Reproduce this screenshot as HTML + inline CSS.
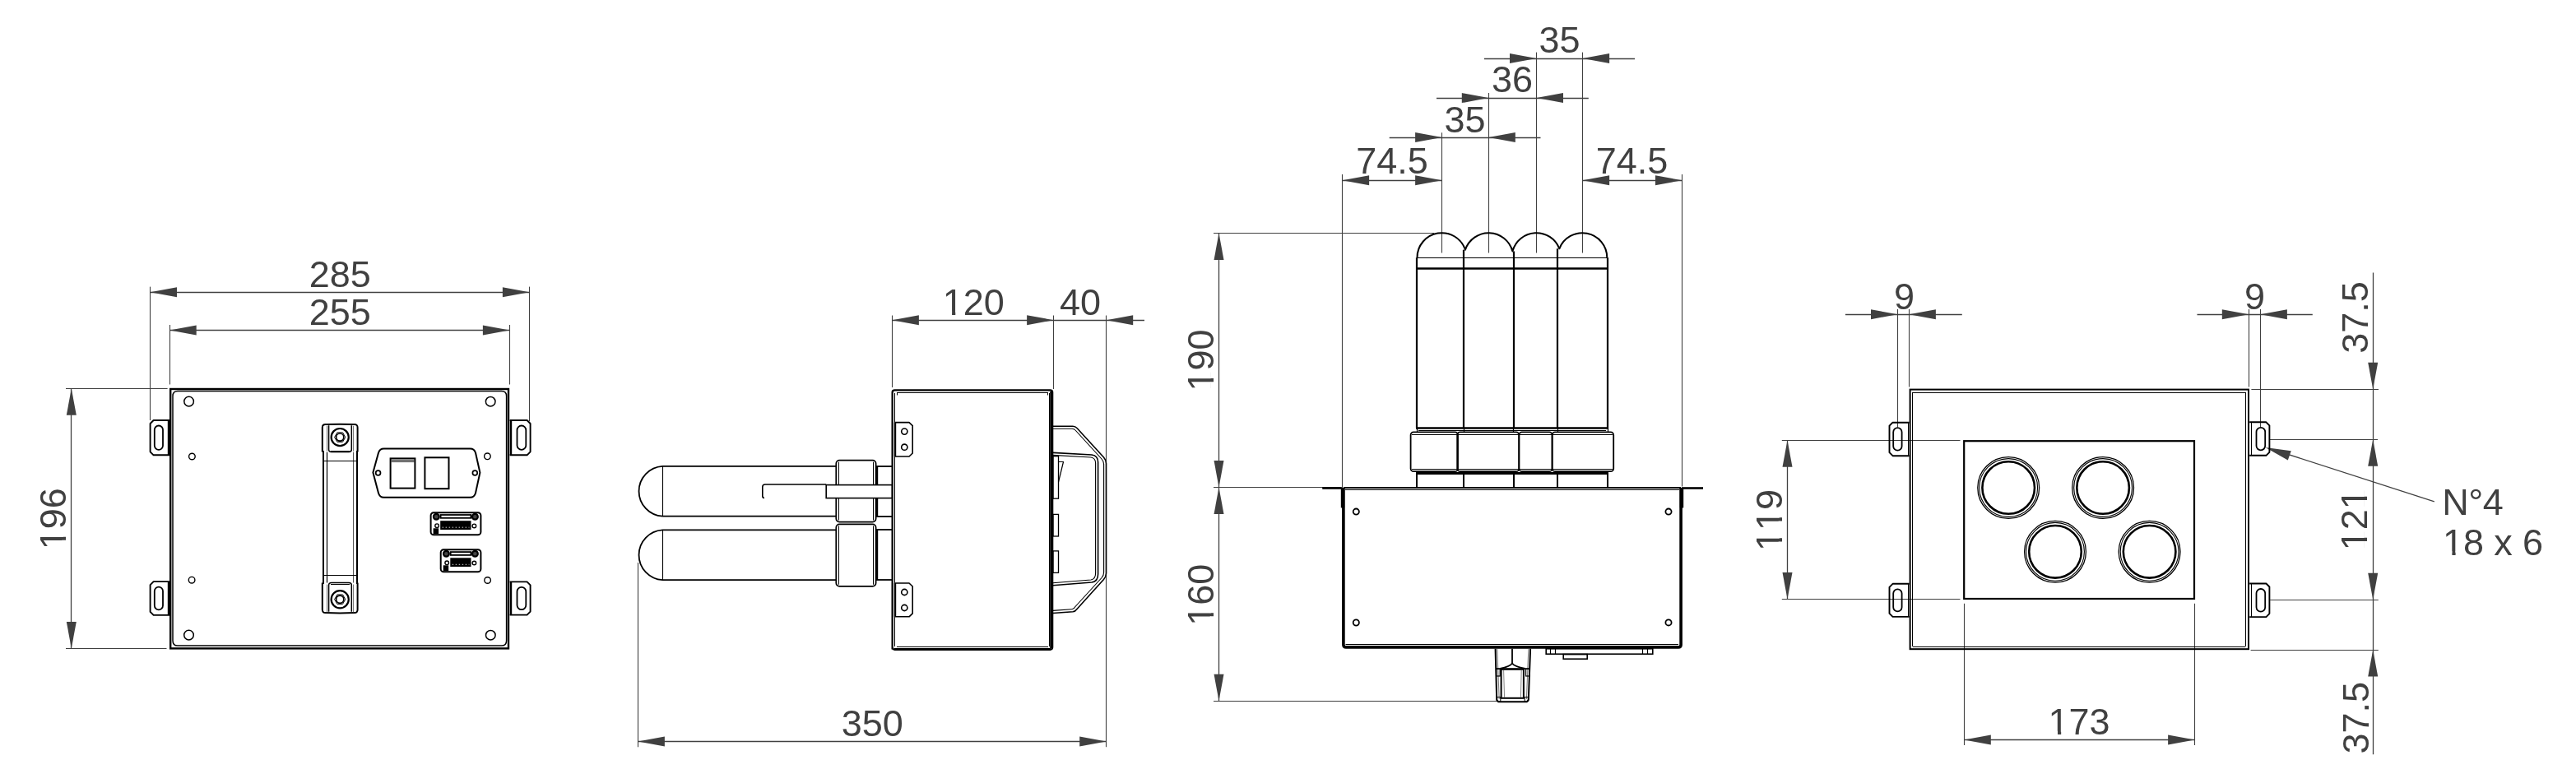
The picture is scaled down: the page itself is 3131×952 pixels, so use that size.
<!DOCTYPE html>
<html><head><meta charset="utf-8"><style>
html,body{margin:0;padding:0;background:#fff;}
svg{display:block;will-change:transform;}
text{font-family:"Liberation Sans",sans-serif;}
</style></head><body>
<svg width="3131" height="952" viewBox="0 0 3131 952">
<defs><clipPath id="k1" clipPathUnits="userSpaceOnUse"><path d="M-8,-60 H40 V-4.3 H15.6 V8 H11.4 V-4.3 H-8 Z"/></clipPath></defs>
<rect x="0" y="0" width="3131" height="952" fill="#fff"/>
<line x1="182.5" y1="348.6" x2="182.5" y2="511.0" stroke="#404040" stroke-width="1.10"/>
<line x1="643.5" y1="348.6" x2="643.5" y2="512.0" stroke="#404040" stroke-width="1.10"/>
<line x1="182.5" y1="355.5" x2="643.4" y2="355.5" stroke="#404040" stroke-width="1.30"/>
<polygon points="182.5,355.2 215.0,349.2 215.0,361.2" fill="#404040"/>
<polygon points="643.4,355.2 610.9,349.2 610.9,361.2" fill="#404040"/>
<g font-size="45.0" fill="#404040"><text x="375.67" y="348.60">2</text><text x="400.69" y="348.60">8</text><text x="425.71" y="348.60">5</text></g>
<line x1="206.5" y1="395.0" x2="206.5" y2="467.5" stroke="#404040" stroke-width="1.10"/>
<line x1="619.5" y1="395.0" x2="619.5" y2="467.5" stroke="#404040" stroke-width="1.10"/>
<line x1="206.2" y1="401.5" x2="619.4" y2="401.5" stroke="#404040" stroke-width="1.30"/>
<polygon points="206.2,401.5 238.7,395.5 238.7,407.5" fill="#404040"/>
<polygon points="619.4,401.5 586.9,395.5 586.9,407.5" fill="#404040"/>
<g font-size="45.0" fill="#404040"><text x="375.67" y="394.60">2</text><text x="400.69" y="394.60">5</text><text x="425.71" y="394.60">5</text></g>
<line x1="80.0" y1="472.5" x2="203.6" y2="472.5" stroke="#404040" stroke-width="1.10"/>
<line x1="80.0" y1="788.5" x2="202.5" y2="788.5" stroke="#404040" stroke-width="1.10"/>
<line x1="86.5" y1="472.2" x2="86.5" y2="788.4" stroke="#404040" stroke-width="1.30"/>
<polygon points="86.8,472.2 80.8,504.7 92.8,504.7" fill="#404040"/>
<polygon points="86.8,788.4 80.8,755.9 92.8,755.9" fill="#404040"/>
<g font-size="45.0" fill="#404040" transform="translate(63.80,630.70) rotate(-90)"><text x="0" y="0" transform="translate(-37.53,15.75)" clip-path="url(#k1)">1</text><text x="-12.51" y="15.75">9</text><text x="12.51" y="15.75">6</text></g>
<rect x="207.2" y="473.0" width="410.8" height="315.4" rx="0.0" fill="none" stroke="#000" stroke-width="2.40"/>
<path d="M210,481.5 Q210,475.5 216,475.5 L609.5,475.5 Q615.6,475.5 615.6,481.5 L615.6,779 Q615.6,785.1 609.5,785.1 L216,785.1 Q210,785.1 210,779 Z" fill="none" stroke="#000" stroke-width="1.50" stroke-linejoin="round" />
<circle cx="229.6" cy="488.1" r="5.8" fill="none" stroke="#000" stroke-width="1.50"/>
<circle cx="596.2" cy="488.2" r="5.8" fill="none" stroke="#000" stroke-width="1.50"/>
<circle cx="229.5" cy="772.1" r="5.8" fill="none" stroke="#000" stroke-width="1.50"/>
<circle cx="596.3" cy="772.2" r="5.8" fill="none" stroke="#000" stroke-width="1.50"/>
<circle cx="233.4" cy="555.0" r="3.8" fill="none" stroke="#000" stroke-width="1.40"/>
<circle cx="592.4" cy="554.8" r="3.8" fill="none" stroke="#000" stroke-width="1.40"/>
<circle cx="233.1" cy="705.2" r="3.8" fill="none" stroke="#000" stroke-width="1.40"/>
<circle cx="592.6" cy="705.5" r="3.8" fill="none" stroke="#000" stroke-width="1.40"/>
<path d="M206.0,511.0 L186.6,511.0 L182.6,515.0 L182.6,549.3 L186.6,553.3 L206.0,553.3" fill="none" stroke="#000" stroke-width="1.90" stroke-linejoin="round" />
<line x1="205.0" y1="511.0" x2="205.0" y2="553.3" stroke="#000" stroke-width="2.40"/>
<rect x="187.8" y="517.5" width="10.2" height="29.3" rx="5.1" fill="none" stroke="#000" stroke-width="1.80"/>
<path d="M206.0,707.1 L186.6,707.1 L182.6,711.1 L182.6,743.9 L186.6,747.9 L206.0,747.9" fill="none" stroke="#000" stroke-width="1.90" stroke-linejoin="round" />
<line x1="205.0" y1="707.1" x2="205.0" y2="747.9" stroke="#000" stroke-width="2.40"/>
<rect x="187.8" y="713.6" width="10.2" height="27.8" rx="5.1" fill="none" stroke="#000" stroke-width="1.80"/>
<path d="M619.6,511.0 L640.6,511.0 L644.6,515.0 L644.6,549.3 L640.6,553.3 L619.6,553.3" fill="none" stroke="#000" stroke-width="1.90" stroke-linejoin="round" />
<line x1="621.0" y1="511.0" x2="621.0" y2="553.3" stroke="#000" stroke-width="2.40"/>
<rect x="628.5" y="517.5" width="10.8" height="29.3" rx="5.4" fill="none" stroke="#000" stroke-width="1.80"/>
<path d="M619.6,707.4 L640.6,707.4 L644.6,711.4 L644.6,743.6 L640.6,747.6 L619.6,747.6" fill="none" stroke="#000" stroke-width="1.90" stroke-linejoin="round" />
<line x1="621.0" y1="707.4" x2="621.0" y2="747.6" stroke="#000" stroke-width="2.40"/>
<rect x="628.5" y="713.9" width="10.8" height="27.2" rx="5.4" fill="none" stroke="#000" stroke-width="1.80"/>
<path d="M391.8,549.6 L391.8,519.8 Q391.8,515.8 396,516.1 Q413,515.2 430.5,516.1 Q434.6,515.8 434.6,519.8 L434.6,549.6" fill="none" stroke="#000" stroke-width="2.00" stroke-linejoin="round" />
<path d="M399.6,517.3 L399.6,546.6 Q399.6,549.6 403,549.6 L424,549.6 Q427.3,549.6 427.3,546.6 L427.3,517.3" fill="none" stroke="#000" stroke-width="1.50" stroke-linejoin="round" />
<line x1="402.0" y1="548.5" x2="425.0" y2="548.5" stroke="#000" stroke-width="1.00"/>
<line x1="397.5" y1="517.8" x2="397.5" y2="548.6" stroke="#777" stroke-width="1.00"/>
<line x1="429.5" y1="517.8" x2="429.5" y2="548.6" stroke="#777" stroke-width="1.00"/>
<circle cx="413.2" cy="531.6" r="10.6" fill="none" stroke="#000" stroke-width="2.20"/>
<path d="M 419.80,531.60 L416.50,537.32 L409.90,537.32 L406.60,531.60 L409.90,525.88 L416.50,525.88 Z" fill="none" stroke="#000" stroke-width="1.00" stroke-linejoin="round" />
<circle cx="413.2" cy="531.6" r="4.6" fill="none" stroke="#000" stroke-width="1.70"/>
<path d="M391.8,708.6 L391.8,741.3 Q391.8,745.3 396,745.0 Q413,745.9 430.5,745.0 Q434.6,745.3 434.6,741.3 L434.6,708.6" fill="none" stroke="#000" stroke-width="2.00" stroke-linejoin="round" />
<path d="M399.6,743.8 L399.6,711.6 Q399.6,708.6 403,708.6 L424,708.6 Q427.3,708.6 427.3,711.6 L427.3,743.8" fill="none" stroke="#000" stroke-width="1.50" stroke-linejoin="round" />
<line x1="402.0" y1="710.5" x2="425.0" y2="710.5" stroke="#000" stroke-width="1.00"/>
<line x1="397.5" y1="710.6" x2="397.5" y2="744.3" stroke="#777" stroke-width="1.00"/>
<line x1="429.5" y1="710.6" x2="429.5" y2="744.3" stroke="#777" stroke-width="1.00"/>
<circle cx="413.2" cy="728.7" r="10.6" fill="none" stroke="#000" stroke-width="2.20"/>
<path d="M 419.80,728.70 L416.50,734.42 L409.90,734.42 L406.60,728.70 L409.90,722.98 L416.50,722.98 Z" fill="none" stroke="#000" stroke-width="1.00" stroke-linejoin="round" />
<circle cx="413.2" cy="728.7" r="4.6" fill="none" stroke="#000" stroke-width="1.70"/>
<line x1="393.0" y1="548.0" x2="393.0" y2="710.0" stroke="#000" stroke-width="2.00"/>
<line x1="434.0" y1="548.0" x2="434.0" y2="710.0" stroke="#000" stroke-width="2.00"/>
<line x1="397.5" y1="549.7" x2="397.5" y2="708.5" stroke="#000" stroke-width="1.20"/>
<line x1="429.5" y1="549.7" x2="429.5" y2="708.5" stroke="#555" stroke-width="1.00"/>
<line x1="393.4" y1="560.5" x2="433.6" y2="560.5" stroke="#000" stroke-width="1.20"/>
<line x1="393.4" y1="699.5" x2="433.6" y2="699.5" stroke="#000" stroke-width="1.20"/>
<path d="M466.5,545.4 L571.5,545.4 Q576.5,545.4 578,550.5 L583.4,574.6 L578,599.5 Q576.5,604.8 571.5,604.8 L466.5,604.8 Q461.5,604.8 460,599.5 L453.4,574.6 L460,550.5 Q461.5,545.4 466.5,545.4 Z" fill="none" stroke="#000" stroke-width="2.00" stroke-linejoin="round" />
<circle cx="459.6" cy="575.0" r="2.9" fill="none" stroke="#000" stroke-width="1.70"/>
<circle cx="577.3" cy="575.0" r="2.9" fill="none" stroke="#000" stroke-width="1.70"/>
<rect x="474.6" y="557.4" width="29.8" height="36.2" rx="0.0" fill="none" stroke="#000" stroke-width="2.00"/>
<line x1="475.6" y1="559.5" x2="503.6" y2="559.5" stroke="#000" stroke-width="0.90"/>
<line x1="475.6" y1="561.5" x2="503.6" y2="561.5" stroke="#000" stroke-width="0.90"/>
<rect x="516.4" y="556.3" width="29.1" height="37.9" rx="0.0" fill="none" stroke="#000" stroke-width="2.00"/>
<rect x="523.6" y="623.2" width="60.8" height="27.1" rx="3.5" fill="none" stroke="#000" stroke-width="2.00"/>
<rect x="535.6" y="626.0" width="36.8" height="3.8" rx="0.0" fill="none" stroke="#000" stroke-width="1.80"/>
<circle cx="530.3" cy="628.2" r="3.4" fill="#444" stroke="#000" stroke-width="2.20"/>
<circle cx="577.4" cy="628.2" r="3.4" fill="#444" stroke="#000" stroke-width="2.20"/>
<rect x="535.2" y="633.2" width="37.3" height="10.8" rx="0.0" fill="#000" stroke="#000" stroke-width="0.00"/>
<line x1="537.6" y1="641.2" x2="570.4" y2="641.2" stroke="#fff" stroke-width="0.8" stroke-dasharray="1.5,2.5"/>
<circle cx="531.1" cy="639.2" r="2.3" fill="none" stroke="#000" stroke-width="1.40"/>
<circle cx="576.4" cy="639.4" r="2.3" fill="none" stroke="#000" stroke-width="1.40"/>
<rect x="526.6" y="642.3" width="6.5" height="7.0" rx="0.0" fill="#000" stroke="#000" stroke-width="0.00"/>
<rect x="535.7" y="668.3" width="48.7" height="27.0" rx="3.5" fill="none" stroke="#000" stroke-width="2.00"/>
<rect x="547.7" y="671.1" width="24.7" height="3.8" rx="0.0" fill="none" stroke="#000" stroke-width="1.80"/>
<circle cx="542.4" cy="673.3" r="3.4" fill="#444" stroke="#000" stroke-width="2.20"/>
<circle cx="577.4" cy="673.3" r="3.4" fill="#444" stroke="#000" stroke-width="2.20"/>
<rect x="547.3" y="678.3" width="25.2" height="10.8" rx="0.0" fill="#000" stroke="#000" stroke-width="0.00"/>
<line x1="549.7" y1="686.3" x2="570.4" y2="686.3" stroke="#fff" stroke-width="0.8" stroke-dasharray="1.5,2.5"/>
<circle cx="543.2" cy="684.3" r="2.3" fill="none" stroke="#000" stroke-width="1.40"/>
<circle cx="576.4" cy="684.5" r="2.3" fill="none" stroke="#000" stroke-width="1.40"/>
<rect x="538.7" y="687.3" width="6.5" height="7.0" rx="0.0" fill="#000" stroke="#000" stroke-width="0.00"/>
<line x1="1084.5" y1="383.5" x2="1084.5" y2="471.0" stroke="#404040" stroke-width="1.10"/>
<line x1="1280.5" y1="383.5" x2="1280.5" y2="473.0" stroke="#404040" stroke-width="1.10"/>
<line x1="1344.5" y1="383.5" x2="1344.5" y2="908.3" stroke="#404040" stroke-width="1.10"/>
<line x1="1084.4" y1="389.5" x2="1391.0" y2="389.5" stroke="#404040" stroke-width="1.30"/>
<polygon points="1084.4,389.2 1116.9,383.2 1116.9,395.2" fill="#404040"/>
<polygon points="1280.6,389.2 1248.1,383.2 1248.1,395.2" fill="#404040"/>
<polygon points="1344.7,389.2 1377.2,383.2 1377.2,395.2" fill="#404040"/>
<g font-size="45.0" fill="#404040"><text x="0" y="0" transform="translate(1145.67,382.70)" clip-path="url(#k1)">1</text><text x="1170.69" y="382.70">2</text><text x="1195.71" y="382.70">0</text></g>
<g font-size="45.0" fill="#404040"><text x="1287.98" y="382.70">4</text><text x="1313.00" y="382.70">0</text></g>
<path d="M1084.6,789.6 L1084.6,477 Q1084.6,474.4 1087.5,474.4 L1276.5,474.4 Q1279.2,474.4 1279.2,477 L1279.2,787 Q1279.2,789.6 1276.5,789.6 L1087.5,789.6 Q1084.6,789.6 1084.6,787" fill="none" stroke="#000" stroke-width="2.20" stroke-linejoin="round" />
<line x1="1090.0" y1="477.5" x2="1274.0" y2="477.5" stroke="#000" stroke-width="1.20"/>
<line x1="1090.0" y1="786.5" x2="1274.0" y2="786.5" stroke="#000" stroke-width="1.20"/>
<line x1="1087.0" y1="789.5" x2="1277.0" y2="789.5" stroke="#000" stroke-width="2.80"/>
<line x1="1090.5" y1="477.8" x2="1090.5" y2="480.5" stroke="#000" stroke-width="1.00"/>
<line x1="1273.5" y1="477.8" x2="1273.5" y2="480.5" stroke="#000" stroke-width="1.00"/>
<line x1="1087.5" y1="478.0" x2="1087.5" y2="786.0" stroke="#000" stroke-width="1.00"/>
<line x1="1278.0" y1="476.0" x2="1278.0" y2="788.0" stroke="#000" stroke-width="3.60"/>
<line x1="1275.5" y1="478.0" x2="1275.5" y2="786.0" stroke="#000" stroke-width="1.00"/>
<path d="M1087,513.6 L1105,513.6 L1109.2,517.6 L1109.2,551.0 L1105,555.0 L1087,555.0" fill="none" stroke="#000" stroke-width="1.60" stroke-linejoin="round" />
<circle cx="1099.3" cy="524.6" r="3.6" fill="none" stroke="#000" stroke-width="1.60"/>
<circle cx="1099.3" cy="543.7" r="3.6" fill="none" stroke="#000" stroke-width="1.60"/>
<line x1="1088.0" y1="513.6" x2="1088.0" y2="555.0" stroke="#000" stroke-width="2.40"/>
<path d="M1087,709.0 L1105,709.0 L1109.2,713.0 L1109.2,745.8 L1105,749.8 L1087,749.8" fill="none" stroke="#000" stroke-width="1.60" stroke-linejoin="round" />
<circle cx="1099.3" cy="720.0" r="3.6" fill="none" stroke="#000" stroke-width="1.60"/>
<circle cx="1099.3" cy="739.0" r="3.6" fill="none" stroke="#000" stroke-width="1.60"/>
<line x1="1088.0" y1="709.0" x2="1088.0" y2="749.8" stroke="#000" stroke-width="2.40"/>
<path d="M1279.8,518.2 L1304,518.2 Q1307,518.2 1309,520.5 L1341.5,556 Q1344.5,559.5 1344.5,563.5 L1344.5,697 Q1344.5,701 1341.5,704.5 L1309,740.5 Q1307,743.5 1304,743.8 L1279.8,745.5" fill="none" stroke="#000" stroke-width="1.60" stroke-linejoin="round" />
<path d="M1279.8,521.2 L1303,521.2 Q1305.5,521.2 1307,523 L1339,558 Q1341.6,561 1341.6,564.5 L1341.6,696 Q1341.6,699.5 1339,702.5 L1307,737.5 Q1305.5,740.5 1303,740.7 L1279.8,742.4" fill="none" stroke="#000" stroke-width="1.10" stroke-linejoin="round" />
<path d="M1279.8,550.4 L1327,553 Q1334.6,554 1334.6,562 L1334.6,698 Q1334.6,707 1327,708 L1279.8,711.7" fill="none" stroke="#000" stroke-width="1.60" stroke-linejoin="round" />
<path d="M1279.8,553.4 L1326,556 Q1331.6,557 1331.6,563 L1331.6,697 Q1331.6,704 1326,705 L1279.8,708.7" fill="none" stroke="#000" stroke-width="1.10" stroke-linejoin="round" />
<rect x="1280.0" y="554.7" width="6.5" height="51.5" rx="0.0" fill="none" stroke="#000" stroke-width="1.30"/>
<path d="M1286.5,561.5 L1292.5,561.5 L1286.5,586" fill="none" stroke="#000" stroke-width="1.20" stroke-linejoin="round" />
<rect x="1280.0" y="625.4" width="6.5" height="26.6" rx="0.0" fill="none" stroke="#000" stroke-width="1.30"/>
<rect x="1280.0" y="669.9" width="6.5" height="26.5" rx="0.0" fill="none" stroke="#000" stroke-width="1.30"/>
<path d="M1016.3,566.8 L805.3,566.8 A30.5,30.5 0 0 0 805.3,627.7 L1016.3,627.7" fill="none" stroke="#000" stroke-width="1.80" stroke-linejoin="round" />
<line x1="805.5" y1="566.8" x2="805.5" y2="627.7" stroke="#000" stroke-width="1.10"/>
<rect x="1016.3" y="559.7" width="48.3" height="74.9" rx="4.0" fill="none" stroke="#000" stroke-width="1.80"/>
<line x1="1019.5" y1="561.7" x2="1019.5" y2="632.6" stroke="#000" stroke-width="1.00"/>
<line x1="1061.5" y1="561.7" x2="1061.5" y2="632.6" stroke="#000" stroke-width="1.00"/>
<line x1="1064.6" y1="567.0" x2="1084.6" y2="567.0" stroke="#000" stroke-width="1.80"/>
<line x1="1064.6" y1="628.0" x2="1084.6" y2="628.0" stroke="#000" stroke-width="1.80"/>
<line x1="1066.0" y1="566.8" x2="1066.0" y2="627.7" stroke="#000" stroke-width="2.40"/>
<path d="M1016.3,644.3 L805.3,644.3 A30.5,30.5 0 0 0 805.3,705.2 L1016.3,705.2" fill="none" stroke="#000" stroke-width="1.80" stroke-linejoin="round" />
<line x1="805.5" y1="644.3" x2="805.5" y2="705.2" stroke="#000" stroke-width="1.10"/>
<rect x="1016.3" y="637.4" width="48.3" height="75.4" rx="4.0" fill="none" stroke="#000" stroke-width="1.80"/>
<line x1="1019.5" y1="639.4" x2="1019.5" y2="710.8" stroke="#000" stroke-width="1.00"/>
<line x1="1061.5" y1="639.4" x2="1061.5" y2="710.8" stroke="#000" stroke-width="1.00"/>
<line x1="1064.6" y1="644.0" x2="1084.6" y2="644.0" stroke="#000" stroke-width="1.80"/>
<line x1="1064.6" y1="705.0" x2="1084.6" y2="705.0" stroke="#000" stroke-width="1.80"/>
<line x1="1066.0" y1="644.3" x2="1066.0" y2="705.2" stroke="#000" stroke-width="2.40"/>
<rect x="1004.2" y="589.6" width="80.0" height="16.0" rx="0.0" fill="#fff" stroke="#000" stroke-width="1.60"/>
<path d="M1004.2,589 L930,589 Q926.8,589 926.8,592 L926.8,603 Q926.8,605.5 929,605.5" fill="none" stroke="#000" stroke-width="1.60" stroke-linejoin="round" />
<line x1="775.5" y1="684.0" x2="775.5" y2="908.3" stroke="#404040" stroke-width="1.10"/>
<line x1="775.4" y1="901.5" x2="1344.7" y2="901.5" stroke="#404040" stroke-width="1.30"/>
<polygon points="775.4,901.5 807.9,895.5 807.9,907.5" fill="#404040"/>
<polygon points="1344.7,901.5 1312.2,895.5 1312.2,907.5" fill="#404040"/>
<g font-size="45.0" fill="#404040"><text x="1022.67" y="894.80">3</text><text x="1047.69" y="894.80">5</text><text x="1072.71" y="894.80">0</text></g>
<line x1="1631.5" y1="212.0" x2="1631.5" y2="592.0" stroke="#404040" stroke-width="1.10"/>
<line x1="2044.5" y1="212.0" x2="2044.5" y2="591.5" stroke="#404040" stroke-width="1.10"/>
<line x1="1752.5" y1="161.3" x2="1752.5" y2="307.5" stroke="#404040" stroke-width="1.10"/>
<line x1="1809.5" y1="113.0" x2="1809.5" y2="307.5" stroke="#404040" stroke-width="1.10"/>
<line x1="1867.5" y1="63.6" x2="1867.5" y2="307.5" stroke="#404040" stroke-width="1.10"/>
<line x1="1923.5" y1="63.6" x2="1923.5" y2="307.5" stroke="#404040" stroke-width="1.10"/>
<line x1="1631.6" y1="219.5" x2="1752.6" y2="219.5" stroke="#404040" stroke-width="1.30"/>
<polygon points="1631.6,219.2 1664.1,213.2 1664.1,225.2" fill="#404040"/>
<polygon points="1752.6,219.2 1720.1,213.2 1720.1,225.2" fill="#404040"/>
<g font-size="45.0" fill="#404040"><text x="1648.21" y="211.30">7</text><text x="1673.23" y="211.30">4</text><text x="1698.25" y="211.30">.</text><text x="1710.76" y="211.30">5</text></g>
<line x1="1923.6" y1="219.5" x2="2044.5" y2="219.5" stroke="#404040" stroke-width="1.30"/>
<polygon points="1923.6,219.2 1956.1,213.2 1956.1,225.2" fill="#404040"/>
<polygon points="2044.5,219.2 2012.0,213.2 2012.0,225.2" fill="#404040"/>
<g font-size="45.0" fill="#404040"><text x="1939.71" y="211.30">7</text><text x="1964.73" y="211.30">4</text><text x="1989.75" y="211.30">.</text><text x="2002.26" y="211.30">5</text></g>
<line x1="1688.7" y1="167.5" x2="1872.5" y2="167.5" stroke="#404040" stroke-width="1.30"/>
<polygon points="1752.6,167.0 1720.1,161.0 1720.1,173.0" fill="#404040"/>
<polygon points="1809.3,167.0 1841.8,161.0 1841.8,173.0" fill="#404040"/>
<g font-size="45.0" fill="#404040"><text x="1755.48" y="160.60">3</text><text x="1780.50" y="160.60">5</text></g>
<line x1="1746.0" y1="119.5" x2="1930.8" y2="119.5" stroke="#404040" stroke-width="1.30"/>
<polygon points="1809.3,119.1 1776.8,113.1 1776.8,125.1" fill="#404040"/>
<polygon points="1867.5,119.1 1900.0,113.1 1900.0,125.1" fill="#404040"/>
<g font-size="45.0" fill="#404040"><text x="1812.88" y="112.00">3</text><text x="1837.90" y="112.00">6</text></g>
<line x1="1803.9" y1="71.5" x2="1987.0" y2="71.5" stroke="#404040" stroke-width="1.30"/>
<polygon points="1867.5,71.1 1835.0,65.1 1835.0,77.1" fill="#404040"/>
<polygon points="1923.6,71.1 1956.1,65.1 1956.1,77.1" fill="#404040"/>
<g font-size="45.0" fill="#404040"><text x="1870.38" y="63.60">3</text><text x="1895.40" y="63.60">5</text></g>
<line x1="1475.0" y1="283.5" x2="1743.0" y2="283.5" stroke="#404040" stroke-width="1.10"/>
<line x1="1475.0" y1="592.5" x2="1630.0" y2="592.5" stroke="#404040" stroke-width="1.10"/>
<line x1="1475.0" y1="852.5" x2="1819.4" y2="852.5" stroke="#404040" stroke-width="1.10"/>
<line x1="1481.5" y1="283.4" x2="1481.5" y2="592.4" stroke="#404040" stroke-width="1.30"/>
<polygon points="1481.5,283.4 1475.5,315.9 1487.5,315.9" fill="#404040"/>
<polygon points="1481.5,592.4 1475.5,559.9 1487.5,559.9" fill="#404040"/>
<line x1="1481.5" y1="592.4" x2="1481.5" y2="852.3" stroke="#404040" stroke-width="1.30"/>
<polygon points="1481.5,592.4 1475.5,624.9 1487.5,624.9" fill="#404040"/>
<polygon points="1481.5,852.3 1475.5,819.8 1487.5,819.8" fill="#404040"/>
<g font-size="45.0" fill="#404040" transform="translate(1459.70,438.00) rotate(-90)"><text x="0" y="0" transform="translate(-37.53,15.75)" clip-path="url(#k1)">1</text><text x="-12.51" y="15.75">9</text><text x="12.51" y="15.75">0</text></g>
<g font-size="45.0" fill="#404040" transform="translate(1459.30,723.20) rotate(-90)"><text x="0" y="0" transform="translate(-37.53,15.75)" clip-path="url(#k1)">1</text><text x="-12.51" y="15.75">6</text><text x="12.51" y="15.75">0</text></g>
<path d="M1722.50,313.20 A30,30 0 0 1 1780.95,303.68 A30,30 0 0 1 1838.40,305.52 A30,30 0 0 1 1895.35,302.30 A30,30 0 0 1 1953.30,313.20 " fill="none" stroke="#000" stroke-width="2.00" stroke-linejoin="round" />
<line x1="1722.3" y1="313.5" x2="1953.6" y2="313.5" stroke="#000" stroke-width="1.20"/>
<line x1="1721.0" y1="326.5" x2="1955.0" y2="326.5" stroke="#000" stroke-width="2.60"/>
<line x1="1722.0" y1="313.2" x2="1722.0" y2="520.4" stroke="#000" stroke-width="2.20"/>
<line x1="1779.0" y1="303.7" x2="1779.0" y2="520.4" stroke="#000" stroke-width="2.20"/>
<line x1="1840.0" y1="305.5" x2="1840.0" y2="520.4" stroke="#000" stroke-width="2.20"/>
<line x1="1893.0" y1="302.3" x2="1893.0" y2="520.4" stroke="#000" stroke-width="2.20"/>
<line x1="1954.0" y1="313.2" x2="1954.0" y2="520.4" stroke="#000" stroke-width="2.20"/>
<line x1="1721.0" y1="520.5" x2="1955.0" y2="520.5" stroke="#000" stroke-width="2.60"/>
<line x1="1724.0" y1="523.5" x2="1952.0" y2="523.5" stroke="#000" stroke-width="1.20"/>
<line x1="1722.5" y1="520.0" x2="1722.5" y2="525.0" stroke="#000" stroke-width="1.20"/>
<line x1="1779.5" y1="520.0" x2="1779.5" y2="525.0" stroke="#000" stroke-width="1.20"/>
<line x1="1839.5" y1="520.0" x2="1839.5" y2="525.0" stroke="#000" stroke-width="1.20"/>
<line x1="1893.5" y1="520.0" x2="1893.5" y2="525.0" stroke="#000" stroke-width="1.20"/>
<line x1="1954.5" y1="520.0" x2="1954.5" y2="525.0" stroke="#000" stroke-width="1.20"/>
<rect x="1714.6" y="525.4" width="57.4" height="47.8" rx="3.5" fill="none" stroke="#000" stroke-width="1.80"/>
<rect x="1771.2" y="525.4" width="75.1" height="47.8" rx="3.5" fill="none" stroke="#000" stroke-width="1.80"/>
<rect x="1846.3" y="525.4" width="40.3" height="47.8" rx="3.5" fill="none" stroke="#000" stroke-width="1.80"/>
<rect x="1886.6" y="525.4" width="74.6" height="47.8" rx="3.5" fill="none" stroke="#000" stroke-width="1.80"/>
<line x1="1716.0" y1="528.5" x2="1960.0" y2="528.5" stroke="#000" stroke-width="1.00"/>
<line x1="1716.0" y1="570.5" x2="1960.0" y2="570.5" stroke="#000" stroke-width="1.00"/>
<line x1="1721.0" y1="575.5" x2="1955.0" y2="575.5" stroke="#000" stroke-width="3.00"/>
<line x1="1722.0" y1="575.0" x2="1722.0" y2="592.5" stroke="#000" stroke-width="2.00"/>
<line x1="1779.0" y1="575.0" x2="1779.0" y2="592.5" stroke="#000" stroke-width="2.00"/>
<line x1="1840.0" y1="575.0" x2="1840.0" y2="592.5" stroke="#000" stroke-width="2.00"/>
<line x1="1893.0" y1="575.0" x2="1893.0" y2="592.5" stroke="#000" stroke-width="2.00"/>
<line x1="1954.0" y1="575.0" x2="1954.0" y2="592.5" stroke="#000" stroke-width="2.00"/>
<line x1="1607.2" y1="593.5" x2="1632.0" y2="593.5" stroke="#000" stroke-width="2.60"/>
<line x1="2044.0" y1="593.5" x2="2070.0" y2="593.5" stroke="#000" stroke-width="2.60"/>
<line x1="1633.0" y1="593.0" x2="2043.0" y2="593.0" stroke="#000" stroke-width="2.00"/>
<line x1="1635.0" y1="595.5" x2="2041.0" y2="595.5" stroke="#000" stroke-width="1.20"/>
<path d="M1632.9,593 L1632.9,784 Q1632.9,787 1636,787 L2040,787 Q2043.1,787 2043.1,784 L2043.1,593" fill="none" stroke="#000" stroke-width="3.60" stroke-linejoin="round" />
<line x1="1632.0" y1="594.0" x2="1632.0" y2="617.4" stroke="#000" stroke-width="4.40"/>
<line x1="2044.0" y1="594.0" x2="2044.0" y2="617.4" stroke="#000" stroke-width="4.40"/>
<line x1="1635.5" y1="783.5" x2="2040.0" y2="783.5" stroke="#000" stroke-width="1.20"/>
<line x1="1633.5" y1="786.5" x2="2042.5" y2="786.5" stroke="#000" stroke-width="2.80"/>
<circle cx="1648.3" cy="622.1" r="3.6" fill="none" stroke="#000" stroke-width="1.80"/>
<circle cx="2028.0" cy="622.1" r="3.6" fill="none" stroke="#000" stroke-width="1.80"/>
<circle cx="1648.3" cy="757.0" r="3.6" fill="none" stroke="#000" stroke-width="1.80"/>
<circle cx="2028.0" cy="756.9" r="3.6" fill="none" stroke="#000" stroke-width="1.80"/>
<path d="M1817.6,788.8 L1819.2,851 L1821,853.2 L1856,853.2 L1857.8,851 L1860.1,788.8" fill="none" stroke="#000" stroke-width="2.00" stroke-linejoin="round" />
<line x1="1819.8" y1="789.0" x2="1822.2" y2="850.0" stroke="#777" stroke-width="1.00"/>
<line x1="1857.8" y1="789.0" x2="1855.4" y2="850.0" stroke="#777" stroke-width="1.00"/>
<rect x="1824.6" y="813.8" width="27.3" height="35.0" rx="0.0" fill="none" stroke="#000" stroke-width="2.00"/>
<line x1="1827.6" y1="815.0" x2="1828.6" y2="848.0" stroke="#888" stroke-width="1.00"/>
<line x1="1849.2" y1="815.0" x2="1848.4" y2="848.0" stroke="#888" stroke-width="1.00"/>
<line x1="1838.0" y1="788.8" x2="1838.0" y2="807.0" stroke="#000" stroke-width="1.80"/>
<path d="M1823.2,812.9 Q1835.5,810.5 1838,806.5 Q1840.5,810.5 1853.8,812.9" fill="none" stroke="#000" stroke-width="1.70" stroke-linejoin="round" />
<line x1="1818.2" y1="813.0" x2="1859.5" y2="813.0" stroke="#000" stroke-width="1.60"/>
<rect x="1818.6" y="813.4" width="4.6" height="8.6" rx="0.0" fill="none" stroke="#000" stroke-width="1.20"/>
<rect x="1854.6" y="813.4" width="4.6" height="8.6" rx="0.0" fill="none" stroke="#000" stroke-width="1.20"/>
<rect x="1819.6" y="847.6" width="4.2" height="5.0" rx="0.0" fill="none" stroke="#000" stroke-width="1.00"/>
<rect x="1853.2" y="847.6" width="4.2" height="5.0" rx="0.0" fill="none" stroke="#000" stroke-width="1.00"/>
<rect x="1879.2" y="788.8" width="129.6" height="6.4" rx="0.0" fill="none" stroke="#000" stroke-width="1.60"/>
<line x1="1884.5" y1="788.8" x2="1884.5" y2="795.0" stroke="#000" stroke-width="1.20"/>
<line x1="1890.5" y1="788.8" x2="1890.5" y2="795.0" stroke="#000" stroke-width="1.20"/>
<line x1="1996.5" y1="788.8" x2="1996.5" y2="795.0" stroke="#000" stroke-width="1.20"/>
<line x1="2002.5" y1="788.8" x2="2002.5" y2="795.0" stroke="#000" stroke-width="1.20"/>
<rect x="1900.2" y="795.6" width="29.0" height="5.6" rx="0.0" fill="none" stroke="#000" stroke-width="1.60"/>
<line x1="2306.5" y1="376.0" x2="2306.5" y2="519.4" stroke="#404040" stroke-width="1.10"/>
<line x1="2320.5" y1="376.0" x2="2320.5" y2="470.5" stroke="#404040" stroke-width="1.10"/>
<line x1="2242.9" y1="382.5" x2="2384.8" y2="382.5" stroke="#404040" stroke-width="1.30"/>
<polygon points="2306.5,382.2 2274.0,376.2 2274.0,388.2" fill="#404040"/>
<polygon points="2320.4,382.2 2352.9,376.2 2352.9,388.2" fill="#404040"/>
<g font-size="45.0" fill="#404040"><text x="2301.89" y="376.00">9</text></g>
<line x1="2733.5" y1="376.0" x2="2733.5" y2="470.5" stroke="#404040" stroke-width="1.10"/>
<line x1="2747.5" y1="376.0" x2="2747.5" y2="519.0" stroke="#404040" stroke-width="1.10"/>
<line x1="2670.5" y1="382.5" x2="2810.8" y2="382.5" stroke="#404040" stroke-width="1.30"/>
<polygon points="2733.3,382.2 2700.8,376.2 2700.8,388.2" fill="#404040"/>
<polygon points="2747.4,382.2 2779.9,376.2 2779.9,388.2" fill="#404040"/>
<g font-size="45.0" fill="#404040"><text x="2728.09" y="376.00">9</text></g>
<line x1="2165.8" y1="535.5" x2="2382.5" y2="535.5" stroke="#404040" stroke-width="1.10"/>
<line x1="2165.8" y1="728.5" x2="2382.5" y2="728.5" stroke="#404040" stroke-width="1.10"/>
<line x1="2172.5" y1="535.2" x2="2172.5" y2="728.6" stroke="#404040" stroke-width="1.30"/>
<polygon points="2172.5,535.2 2166.5,567.7 2178.5,567.7" fill="#404040"/>
<polygon points="2172.5,728.6 2166.5,696.1 2178.5,696.1" fill="#404040"/>
<g font-size="45.0" fill="#404040" transform="translate(2150.30,632.40) rotate(-90)"><text x="0" y="0" transform="translate(-37.53,15.75)" clip-path="url(#k1)">1</text><text x="0" y="0" transform="translate(-12.51,15.75)" clip-path="url(#k1)">1</text><text x="12.51" y="15.75">9</text></g>
<line x1="2387.5" y1="733.8" x2="2387.5" y2="906.0" stroke="#404040" stroke-width="1.10"/>
<line x1="2667.5" y1="733.8" x2="2667.5" y2="906.0" stroke="#404040" stroke-width="1.10"/>
<line x1="2387.3" y1="899.5" x2="2667.6" y2="899.5" stroke="#404040" stroke-width="1.30"/>
<polygon points="2387.3,899.5 2419.8,893.5 2419.8,905.5" fill="#404040"/>
<polygon points="2667.6,899.5 2635.1,893.5 2635.1,905.5" fill="#404040"/>
<g font-size="45.0" fill="#404040"><text x="0" y="0" transform="translate(2489.57,893.10)" clip-path="url(#k1)">1</text><text x="2514.59" y="893.10">7</text><text x="2539.61" y="893.10">3</text></g>
<line x1="2884.5" y1="331.6" x2="2884.5" y2="917.2" stroke="#404040" stroke-width="1.30"/>
<line x1="2736.4" y1="473.5" x2="2891.0" y2="473.5" stroke="#404040" stroke-width="1.10"/>
<line x1="2758.3" y1="534.5" x2="2890.0" y2="534.5" stroke="#404040" stroke-width="1.10"/>
<line x1="2759.2" y1="729.5" x2="2890.8" y2="729.5" stroke="#404040" stroke-width="1.10"/>
<line x1="2735.6" y1="790.5" x2="2890.8" y2="790.5" stroke="#404040" stroke-width="1.10"/>
<polygon points="2884.2,473.2 2878.2,440.7 2890.2,440.7" fill="#404040"/>
<polygon points="2884.2,534.2 2878.2,566.7 2890.2,566.7" fill="#404040"/>
<polygon points="2884.2,729.3 2878.2,696.8 2890.2,696.8" fill="#404040"/>
<polygon points="2884.2,790.1 2878.2,822.6 2890.2,822.6" fill="#404040"/>
<g font-size="45.0" fill="#404040" transform="translate(2862.00,385.90) rotate(-90)"><text x="-43.78" y="15.75">3</text><text x="-18.76" y="15.75">7</text><text x="6.26" y="15.75">.</text><text x="18.77" y="15.75">5</text></g>
<g font-size="45.0" fill="#404040" transform="translate(2861.70,631.80) rotate(-90)"><text x="0" y="0" transform="translate(-37.53,15.75)" clip-path="url(#k1)">1</text><text x="-12.51" y="15.75">2</text><text x="0" y="0" transform="translate(12.51,15.75)" clip-path="url(#k1)">1</text></g>
<g font-size="45.0" fill="#404040" transform="translate(2862.80,872.70) rotate(-90)"><text x="-43.78" y="15.75">3</text><text x="-18.76" y="15.75">7</text><text x="6.26" y="15.75">.</text><text x="18.77" y="15.75">5</text></g>
<line x1="2958.8" y1="609.9" x2="2770.0" y2="548.8" stroke="#404040" stroke-width="1.30"/>
<polygon points="2753.4,543.9 2784.8,548.2 2780.8,559.6" fill="#404040"/>
<g font-size="45.0" fill="#404040"><text x="2968.20" y="626.00">N</text><text x="3000.19" y="626.00">°</text><text x="3017.69" y="626.00">4</text></g>
<g font-size="45.0" fill="#404040"><text x="0" y="0" transform="translate(2969.00,674.50)" clip-path="url(#k1)">1</text><text x="2994.02" y="674.50">8</text><text x="3031.25" y="674.50">x</text><text x="3065.96" y="674.50">6</text></g>
<rect x="2321.6" y="473.6" width="411.4" height="315.6" rx="0.0" fill="none" stroke="#000" stroke-width="2.00"/>
<line x1="2325.0" y1="477.5" x2="2729.0" y2="477.5" stroke="#000" stroke-width="1.00"/>
<line x1="2325.0" y1="786.5" x2="2729.0" y2="786.5" stroke="#000" stroke-width="1.00"/>
<line x1="2324.5" y1="477.0" x2="2324.5" y2="786.0" stroke="#000" stroke-width="1.00"/>
<line x1="2729.5" y1="477.0" x2="2729.5" y2="786.0" stroke="#000" stroke-width="1.00"/>
<rect x="2387.2" y="536.2" width="279.8" height="191.8" rx="0.0" fill="none" stroke="#000" stroke-width="2.20"/>
<circle cx="2441.2" cy="593.0" r="37.4" fill="none" stroke="#000" stroke-width="1.30"/>
<circle cx="2441.2" cy="593.0" r="35.4" fill="none" stroke="#000" stroke-width="1.10"/>
<circle cx="2441.2" cy="593.0" r="31.8" fill="none" stroke="#000" stroke-width="2.60"/>
<circle cx="2556.1" cy="593.0" r="37.4" fill="none" stroke="#000" stroke-width="1.30"/>
<circle cx="2556.1" cy="593.0" r="35.4" fill="none" stroke="#000" stroke-width="1.10"/>
<circle cx="2556.1" cy="593.0" r="31.8" fill="none" stroke="#000" stroke-width="2.60"/>
<circle cx="2498.0" cy="670.8" r="37.4" fill="none" stroke="#000" stroke-width="1.30"/>
<circle cx="2498.0" cy="670.8" r="35.4" fill="none" stroke="#000" stroke-width="1.10"/>
<circle cx="2498.0" cy="670.8" r="31.8" fill="none" stroke="#000" stroke-width="2.60"/>
<circle cx="2612.6" cy="670.8" r="37.4" fill="none" stroke="#000" stroke-width="1.30"/>
<circle cx="2612.6" cy="670.8" r="35.4" fill="none" stroke="#000" stroke-width="1.10"/>
<circle cx="2612.6" cy="670.8" r="31.8" fill="none" stroke="#000" stroke-width="2.60"/>
<path d="M2320.6,513.7 L2300.5,513.7 L2296.5,517.7 L2296.5,550.2 L2300.5,554.2 L2320.6,554.2" fill="none" stroke="#000" stroke-width="1.90" stroke-linejoin="round" />
<line x1="2319.5" y1="513.7" x2="2319.5" y2="554.2" stroke="#000" stroke-width="1.00"/>
<rect x="2301.2" y="520.2" width="10.4" height="27.5" rx="5.2" fill="none" stroke="#000" stroke-width="1.80"/>
<path d="M2320.6,709.8 L2300.5,709.8 L2296.5,713.8 L2296.5,745.9 L2300.5,749.9 L2320.6,749.9" fill="none" stroke="#000" stroke-width="1.90" stroke-linejoin="round" />
<line x1="2319.5" y1="709.8" x2="2319.5" y2="749.9" stroke="#000" stroke-width="1.00"/>
<rect x="2301.2" y="716.3" width="10.4" height="27.1" rx="5.2" fill="none" stroke="#000" stroke-width="1.80"/>
<path d="M2734.2,513.3 L2754.4,513.3 L2758.4,517.3 L2758.4,549.8 L2754.4,553.8 L2734.2,553.8" fill="none" stroke="#000" stroke-width="1.90" stroke-linejoin="round" />
<line x1="2736.5" y1="513.3" x2="2736.5" y2="553.8" stroke="#000" stroke-width="1.00"/>
<rect x="2742.5" y="519.8" width="10.7" height="27.5" rx="5.3" fill="none" stroke="#000" stroke-width="1.80"/>
<path d="M2734.2,709.5 L2754.4,709.5 L2758.4,713.5 L2758.4,746.1 L2754.4,750.1 L2734.2,750.1" fill="none" stroke="#000" stroke-width="1.90" stroke-linejoin="round" />
<line x1="2736.5" y1="709.5" x2="2736.5" y2="750.1" stroke="#000" stroke-width="1.00"/>
<rect x="2742.5" y="716.0" width="10.7" height="27.6" rx="5.3" fill="none" stroke="#000" stroke-width="1.80"/>
</svg></body></html>
